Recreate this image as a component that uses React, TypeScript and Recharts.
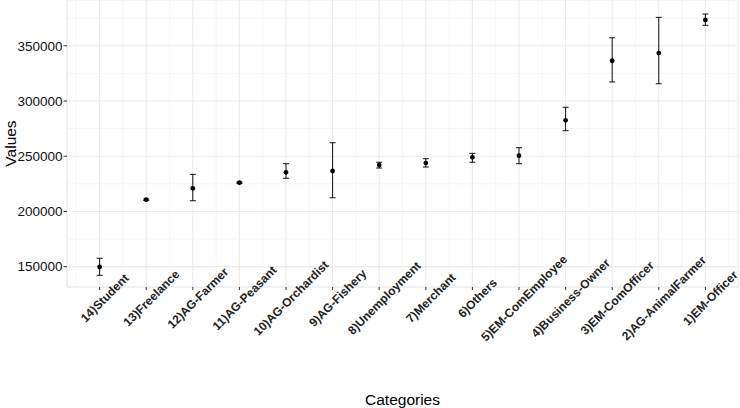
import { ScatterChart, Scatter, XAxis, YAxis, CartesianGrid, ErrorBar, ReferenceLine } from 'recharts'

const categories = [
  '14)Student',
  '13)Freelance',
  '12)AG-Farmer',
  '11)AG-Peasant',
  '10)AG-Orchardist',
  '9)AG-Fishery',
  '8)Unemployment',
  '7)Merchant',
  '6)Others',
  '5)EM-ComEmployee',
  '4)Business-Owner',
  '3)EM-ComOfficer',
  '2)AG-AnimalFarmer',
  '1)EM-Officer',
]
const means = [149700, 210600, 220900, 226000, 235400, 236600, 242000, 243800, 249000, 250500, 282500, 336400, 343400, 373300]
const lower = [142200, 209900, 209700, 225400, 230000, 212400, 239300, 240200, 244500, 243200, 273100, 317200, 315600, 368500]
const upper = [157600, 211300, 233600, 226600, 243200, 262200, 244500, 247700, 252600, 257700, 294300, 357200, 375700, 378700]

const yTicks = [150000, 200000, 250000, 300000, 350000]
const yMinor = [175000, 225000, 275000, 325000, 375000]

const xTicks = categories.map((_, i) => i + 1)
const xMinor = categories.map((_, i) => i + 0.5).concat([categories.length + 0.5])

const data = categories.map((name, i) => ({
  x: i + 1,
  name,
  value: means[i],
  err: [means[i] - lower[i], upper[i] - means[i]],
}))

const FONT = '"Liberation Sans", Arial, sans-serif'
const MAJOR = '#ebebeb'
const MINOR = '#f4f4f4'

const CategoryTick = (props: any) => {
  const { x, payload } = props
  const label = categories[payload.value - 1]
  const cx = x + 5
  const cy = 298
  return (
    <text
      x={cx}
      y={cy}
      dy="0.35em"
      textAnchor="middle"
      transform={`rotate(-45 ${cx} ${cy})`}
      fontFamily={FONT}
      fontSize={12}
      fontWeight="bold"
      fill="#222"
    >
      {label}
    </text>
  )
}

const Dot = (props: any) => <circle cx={props.cx} cy={props.cy} r={2.4} fill="#000" />

export default function App() {
  return (
    <div style={{ position: 'absolute', left: 0, top: 0, width: 740, height: 408, background: '#fff' }}>
      <ScatterChart width={740} height={408} margin={{ top: 0, right: 2, left: 0, bottom: 0 }}>
        {yMinor.map(v => (
          <ReferenceLine key={`hy-${v}`} y={v} stroke={MINOR} strokeWidth={0.8} ifOverflow="hidden" />
        ))}
        {xMinor.map(v => (
          <ReferenceLine key={`vx-${v}`} x={v} stroke={MINOR} strokeWidth={0.8} ifOverflow="hidden" />
        ))}
        <CartesianGrid stroke={MAJOR} strokeWidth={1.1} />
        <XAxis
          type="number"
          dataKey="x"
          domain={[0.3, 14.7]}
          ticks={xTicks}
          interval={0}
          allowDataOverflow
          height={121}
          axisLine={{ stroke: MAJOR }}
          tickLine={{ stroke: '#333' }}
          tickSize={3}
          tick={<CategoryTick />}
          label={{
            content: () => (
              <text x={402.5} y={404.5} textAnchor="middle" fontFamily={FONT} fontSize={15.5} fill="#000">
                Categories
              </text>
            ),
          }}
        />
        <YAxis
          type="number"
          dataKey="value"
          domain={[131600, 391400]}
          ticks={yTicks}
          allowDataOverflow
          width={67}
          axisLine={{ stroke: MAJOR }}
          tickLine={{ stroke: '#333' }}
          tickSize={3.5}
          tickMargin={1}
          tick={{ fontFamily: FONT, fontSize: 13.5, fill: '#111' }}
          label={{
            content: () => (
              <text
                x={15.5}
                y={143.5}
                textAnchor="middle"
                transform="rotate(-90 15.5 143.5)"
                fontFamily={FONT}
                fontSize={15.5}
                fill="#000"
              >
                Values
              </text>
            ),
          }}
        />
        <Scatter data={data} shape={<Dot />} isAnimationActive={false}>
          <ErrorBar dataKey="err" direction="y" width={3} stroke="#111" strokeWidth={1} />
        </Scatter>
      </ScatterChart>
    </div>
  )
}
